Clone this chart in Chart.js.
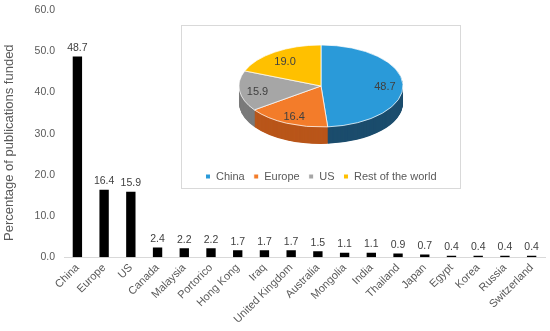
<!doctype html>
<html lang="en">
  <head>
    <meta charset="utf-8">
    <title>Percentage of publications funded</title>
    <style>
      * {
        margin: 0;
        padding: 0;
      }
      body {
        background: #fff;
      }
      .chartBox {
        position: relative;
        width: 550px;
        height: 331px;
      }
      .pieBox {
        position: absolute;
        left: 181px;
        top: 25px;
        width: 278px;
        height: 162px;
        border: 1px solid #d9d9d9;
        background: #fff;
      }
    </style>
  </head>
  <body>
    <div class="chartBox">
      <canvas id="barChart" width="550" height="331"></canvas>
      <div class="pieBox">
        <canvas id="pieChart" width="278" height="162"></canvas>
      </div>
    </div>
    <script src="https://cdn.jsdelivr.net/npm/chart.js"></script>
    <script>
    // bar chart data
    const countries = ['China', 'Europe', 'US', 'Canada', 'Malaysia', 'Portorico', 'Hong Kong', 'Iraq',
      'United Kingdom', 'Australia', 'Mongolia', 'India', 'Thailand', 'Japan', 'Egypt', 'Korea',
      'Russia', 'Switzerland'];
    const funded = [48.7, 16.4, 15.9, 2.4, 2.2, 2.2, 1.7, 1.7, 1.7, 1.5, 1.1, 1.1, 0.9, 0.7, 0.4, 0.4, 0.4, 0.4];

    // pie chart data
    const regions = ['China', 'Europe', 'US', 'Rest of the world'];
    const regionShare = [48.7, 16.4, 15.9, 19.0];

    const FONT = '"Liberation Sans", Arial, sans-serif';
    const GREY_TEXT = '#595959';
    Chart.defaults.font.family = FONT;
    Chart.defaults.color = GREY_TEXT;

    // value labels above the bars
    const barValueLabels = {
      id: 'barValueLabels',
      afterDatasetsDraw(chart) {
        const ctx = chart.ctx;
        ctx.save();
        ctx.font = '10.5px ' + FONT;
        ctx.fillStyle = '#404040';
        ctx.textAlign = 'center';
        ctx.textBaseline = 'bottom';
        chart.getDatasetMeta(0).data.forEach((bar, i) => {
          ctx.fillText(funded[i].toFixed(1), bar.x, bar.y - 3);
        });
        ctx.restore();
      }
    };

    const barChart = new Chart(document.getElementById('barChart'), {
      type: 'bar',
      data: {
        labels: countries,
        datasets: [{
          data: funded,
          backgroundColor: '#000',
          categoryPercentage: 1,
          barPercentage: 0.35
        }]
      },
      options: {
        responsive: false,
        animation: false,
        events: [],
        layout: { padding: { top: 10, right: 5, bottom: 1, left: 0 } },
        plugins: { legend: { display: false }, tooltip: { enabled: false } },
        scales: {
          x: {
            grid: { display: false, drawTicks: false },
            border: { display: true, color: '#d9d9d9', width: 1 },
            ticks: { minRotation: 45, maxRotation: 45, padding: 4, font: { size: 11 }, color: GREY_TEXT }
          },
          y: {
            min: 0,
            max: 60,
            grid: { display: false, drawTicks: false },
            border: { display: false },
            afterFit: scale => { scale.paddingTop = 0; },
            ticks: {
              stepSize: 10,
              padding: 9,
              font: { size: 10.5 },
              color: GREY_TEXT,
              callback: v => v.toFixed(1)
            },
            title: {
              display: true,
              // trailing spaces nudge the rotated title a little lower, as in the original
              text: 'Percentage of publications funded\u00a0\u00a0\u00a0\u00a0\u00a0',
              font: { size: 13 },
              color: GREY_TEXT,
              padding: { top: 2, bottom: 8 }
            }
          }
        }
      },
      plugins: [barValueLabels]
    });

    // flattened pie with an extruded side
    const TILT = 0.5;
    const DEPTH = 17;
    const CENTER_Y = 60;
    const sideColors = ['#1c4d6d', '#b9561a', '#7a7a7a', '#b88a00'];

    const pie3d = {
      id: 'pie3d',
      beforeDatasetsDraw(chart) {
        const ctx = chart.ctx;
        const arcs = chart.getDatasetMeta(0).data;
        const cy = arcs[0].y;
        ctx.save();
        ctx.translate(0, CENTER_Y);
        ctx.scale(1, TILT);
        ctx.translate(0, -cy);
        for (let d = DEPTH / TILT; d > 0; d--) {
          arcs.forEach((arc, i) => {
            const p = arc.getProps(['x', 'y', 'startAngle', 'endAngle', 'outerRadius'], true);
            ctx.beginPath();
            ctx.moveTo(p.x, p.y + d);
            ctx.arc(p.x, p.y + d, p.outerRadius, p.startAngle, p.endAngle);
            ctx.closePath();
            ctx.fillStyle = sideColors[i];
            ctx.fill();
          });
        }
      },
      afterDatasetsDraw(chart) {
        const ctx = chart.ctx;
        ctx.restore();
        ctx.save();
        ctx.font = '11px ' + FONT;
        ctx.fillStyle = '#404040';
        ctx.textAlign = 'center';
        ctx.textBaseline = 'middle';
        chart.getDatasetMeta(0).data.forEach((arc, i) => {
          const p = arc.getProps(['x', 'startAngle', 'endAngle', 'outerRadius'], true);
          const mid = (p.startAngle + p.endAngle) / 2;
          const r = p.outerRadius * 0.78;
          ctx.fillText(regionShare[i].toFixed(1), p.x + Math.cos(mid) * r, CENTER_Y + 2 + Math.sin(mid) * r * TILT);
        });
        ctx.restore();
      }
    };

    const pieChart = new Chart(document.getElementById('pieChart'), {
      type: 'pie',
      data: {
        labels: regions,
        datasets: [{
          data: regionShare,
          backgroundColor: ['#2a9ad9', '#f37c2a', '#a6a6a6', '#ffc000'],
          borderColor: '#ffffff',
          borderWidth: 1,
          radius: 82,
          clip: false
        }]
      },
      options: {
        responsive: false,
        animation: false,
        events: [],
        layout: { padding: { bottom: -4 } },
        plugins: {
          tooltip: { enabled: false },
          legend: {
            position: 'bottom',
            labels: {
              boxWidth: 5,
              boxHeight: 5,
              padding: 9,
              color: GREY_TEXT,
              font: { size: 11 }
            }
          }
        }
      },
      plugins: [pie3d]
    });
    </script>
  </body>
</html>
